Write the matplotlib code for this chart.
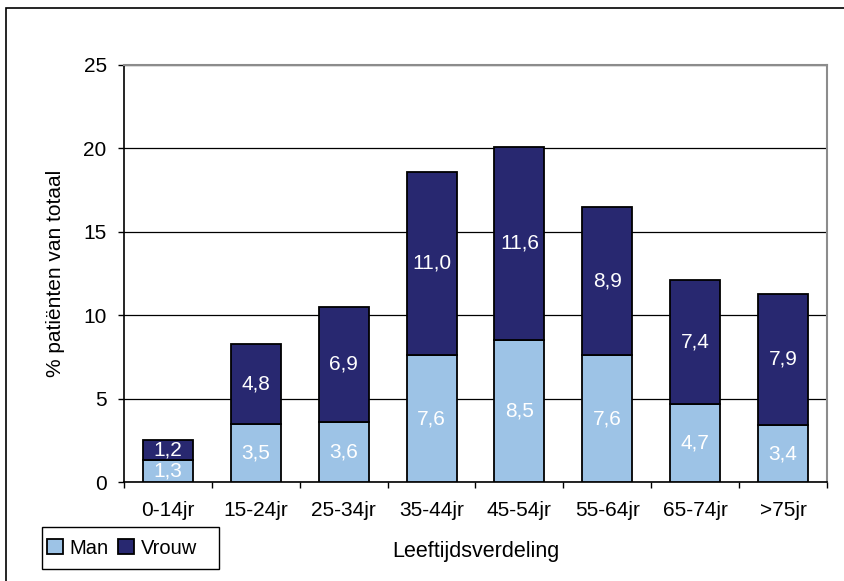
import matplotlib.pyplot as plt
from matplotlib.patches import Rectangle

plt.rcParams['font.family'] = ['Liberation Sans', 'DejaVu Sans']

# Age groups and percentages per sex
groups = ['0-14jr', '15-24jr', '25-34jr', '35-44jr', '45-54jr', '55-64jr', '65-74jr', '>75jr']
man = [1.3, 3.5, 3.6, 7.6, 8.5, 7.6, 4.7, 3.4]
vrouw = [1.2, 4.8, 6.9, 11.0, 11.6, 8.9, 7.4, 7.9]
man_labels = ['1,3', '3,5', '3,6', '7,6', '8,5', '7,6', '4,7', '3,4']
vrouw_labels = ['1,2', '4,8', '6,9', '11,0', '11,6', '8,9', '7,4', '7,9']

light = '#9DC3E6'
dark = '#282870'
fs = 15

W, H = 845, 581
fig = plt.figure(figsize=(W / 100, H / 100), dpi=100)
# frame round the whole chart
fig.patches.append(Rectangle((6 / W, -0.1), 1.2, 1 - 8 / H + 0.1, transform=fig.transFigure,
                             fill=False, edgecolor='black', linewidth=1.2))
ax = fig.add_axes([124 / W, (H - 482) / H, 703 / W, 417 / H])

x = list(range(len(groups)))
b1 = ax.bar(x, man, width=0.57, color=light, edgecolor='black', linewidth=1.3, label='Man', zorder=3)
b2 = ax.bar(x, vrouw, width=0.57, bottom=man, color=dark, edgecolor='black', linewidth=1.3,
            label='Vrouw', zorder=3)

for i in x:
    ax.text(i, man[i] / 2, man_labels[i], ha='center', va='center', color='white', fontsize=15, zorder=4)
    ax.text(i, man[i] + vrouw[i] / 2, vrouw_labels[i], ha='center', va='center', color='white',
            fontsize=15, zorder=4)

ax.set_xlim(-0.5, len(groups) - 0.5)
ax.set_ylim(0, 25)
ax.set_yticks([0, 5, 10, 15, 20, 25])
ax.set_yticklabels(['0', '5', '10', '15', '20', '25'], fontsize=fs)
ax.yaxis.grid(True, color='black', linewidth=0.9, zorder=0)
ax.set_axisbelow(True)

# category labels between the boundary ticks
ax.set_xticks([i + 0.5 for i in range(-1, len(groups))])
ax.set_xticklabels([])
ax.set_xticks(x, minor=True)
ax.set_xticklabels(groups, minor=True, fontsize=fs)
ax.tick_params(axis='x', which='minor', length=0, pad=14)
ax.tick_params(axis='x', which='major', length=4.5, width=1, direction='out')
ax.tick_params(axis='y', length=4.5, width=1, pad=8)

for s in ['top', 'right']:
    ax.spines[s].set_color('#8c8c8c')
    ax.spines[s].set_linewidth(1.5)
for s in ['left', 'bottom']:
    ax.spines[s].set_linewidth(1.2)

ax.set_ylabel('% patiënten van totaal', fontsize=15)
ax.yaxis.set_label_coords(-0.084, 0.5)
ax.set_xlabel('Leeftijdsverdeling', fontsize=15.5)
ax.xaxis.set_label_coords(0.5, -0.1415)

# legend box drawn separately, entries placed inside it
fig.patches.append(Rectangle((42 / W, (H - 569) / H), 177 / W, 42 / H, transform=fig.transFigure,
                             fill=False, edgecolor='black', linewidth=1))
leg = fig.legend(handles=[b1, b2], loc='center left', bbox_to_anchor=(47 / W, (H - 548) / H), ncol=2,
                 fontsize=14.5, frameon=False, handlelength=0.8, handleheight=0.7,
                 handletextpad=0.3, columnspacing=0.5, borderpad=0, borderaxespad=0)

fig.savefig('out.png', dpi=100)
